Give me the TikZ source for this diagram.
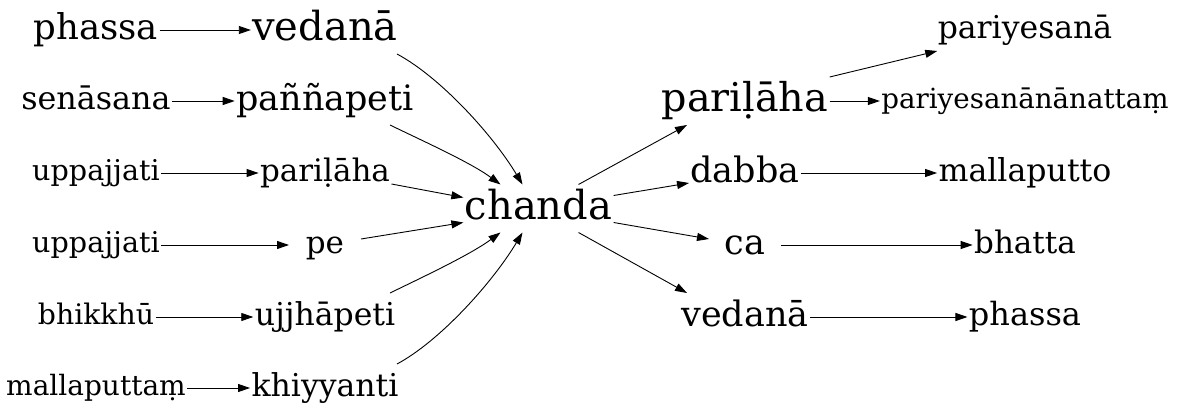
\documentclass[tikz,border=0pt]{standalone}
\usepackage{fontspec}
\setmainfont{DejaVu Serif}
\usetikzlibrary{arrows.meta,calc}
\newcommand{\fsz}[1]{\fontsize{#1}{#1}\selectfont}
\begin{document}
\begin{tikzpicture}[x=1pt,y=-1pt,
  n/.style={rectangle, inner sep=0pt, inner xsep=1.5pt, outer sep=0pt,
    minimum height=48pt, minimum width=72pt,
    font=\fsz{#1}, text height={0.8*#1pt}, text depth={0.26*#1pt}},
  e/.style={line width=0.9pt, -{Triangle[length=12pt,width=8pt]}}]
\useasboundingbox (0,0) rectangle (1177,419);
% column 1
\node[n=35.5] (phassaL) at (96,30) {phassa};
\node[n=31.8] (senasana) at (96,101) {senāsana};
\node[n=28.6] (uppa) at (96,173) {uppajjati};
\node[n=28.6] (uppb) at (96,245) {uppajjati};
\node[n=28.3] (bhikkhu) at (96,317) {bhikkhū};
\node[n=28] (mallaputtam) at (96,388) {mallaputtaṃ};
% column 2
\node[n=40] (vedanaL) at (325,30) {vedanā};
\node[n=35] (pannapeti) at (325,101) {paññapeti};
\node[n=31] (parilahaL) at (325,173) {pariḷāha};
\node[n=31] (pe) at (325,245) {pe};
\node[n=31.5] (ujjhapeti) at (325,317) {ujjhāpeti};
\node[n=31.5] (khiyyanti) at (325,388) {khiyyanti};
% centre
\node[n=40] (chanda) at (538.5,208.5) {chanda};
% column 4
\node[n=39.7] (parilahaR) at (745,101) {pariḷāha};
\node[n=35] (dabba) at (745,173) {dabba};
\node[n=35] (ca) at (745,245) {ca};
\node[n=35] (vedanaR) at (745,317) {vedanā};
% column 5
\node[n=31.5] (pariyesana) at (1025,30) {pariyesanā};
\node[n=27.7] (nanattam) at (1025,101) {pariyesanānānattaṃ};
\node[n=31.6] (mallaputto) at (1025,173) {mallaputto};
\node[n=31] (bhatta) at (1025,245) {bhatta};
\node[n=32] (phassaR) at (1025,317) {phassa};
% straight edges
\draw[e] (phassaL) -- (vedanaL);
\draw[e] (senasana) -- (pannapeti);
\draw[e] (uppa) -- (parilahaL);
\draw[e] (uppb) -- (pe);
\draw[e] (bhikkhu) -- (ujjhapeti);
\draw[e] (mallaputtam) -- (khiyyanti);
% into chanda
\draw[e] ($(vedanaL.south)+(72,0)$) .. controls +(43,23) and +(-30,-50) .. ($(chanda.north)+(-16,0)$);
\draw[e] ($(pannapeti.south)+(65,0)$) .. controls +(35,17) and +(-30,-22) .. ($(chanda.north)+(-38,0)$);
\draw[e] ($(parilahaL.east)+(0,11)$) -- ($(chanda.west)+(0,-11)$);
\draw[e] ($(pe.east)+(0,-6)$) -- ($(chanda.west)+(0,14)$);
\draw[e] ($(ujjhapeti.north)+(65,0)$) .. controls +(35,-17) and +(-30,22) .. ($(chanda.south)+(-38,0)$);
\draw[e] ($(khiyyanti.north)+(72,0)$) .. controls +(43,-23) and +(-30,50) .. ($(chanda.south)+(-16,0)$);
% out of chanda
\draw[e] ($(chanda.north)+(40,0)$) -- ($(parilahaR.south)+(-58,0)$);
\draw[e] ($(chanda.east)+(0,-13)$) -- ($(dabba.west)+(0,10)$);
\draw[e] ($(chanda.east)+(0,14)$) -- ($(ca.west)+(0,-6)$);
\draw[e] ($(chanda.south)+(40,0)$) -- ($(vedanaR.north)+(-58,0)$);
% right
\draw[e] (parilahaR.north east) -- ($(pariyesana.south west)+(1,-3)$);
\draw[e] (parilahaR) -- (nanattam);
\draw[e] (dabba) -- (mallaputto);
\draw[e] (ca) -- (bhatta);
\draw[e] (vedanaR) -- (phassaR);
\end{tikzpicture}
\end{document}
